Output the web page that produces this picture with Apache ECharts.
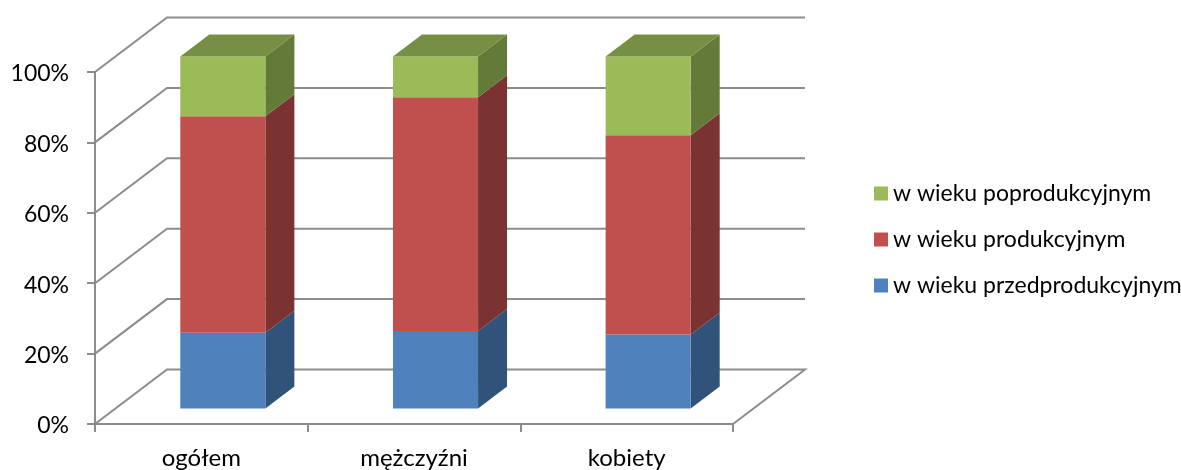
<!DOCTYPE html>
<html>
<head>
<meta charset="utf-8">
<style>html,body{margin:0;padding:0;background:#fff}#c{width:1181px;height:470px}</style>
<script src="https://cdn.jsdelivr.net/npm/echarts@6/dist/echarts.min.js"></script>
</head>
<body>
<div id="c"></div>
<script>
const categories = ['ogółem', 'mężczyźni', 'kobiety'];
const przedprodukcyjny = [21.5, 22, 21];
const produkcyjny = [61.5, 66.4, 56.6];
const poprodukcyjny = [17, 11.6, 22.4];
const yTicks = [0, 20, 40, 60, 80, 100];
const seriesNames = ['w wieku przedprodukcyjnym', 'w wieku produkcyjnym', 'w wieku poprodukcyjnym'];
const frontColors = ['#4F81BD', '#C0504D', '#9BBB59'];
const sideColors = ['#315279', '#7B3331', '#647A38'];
const topColor = '#778F44';

const WALL_DX = 72, WALL_DY = -54.5, DEPTH_X = 29, DEPTH_Y = -22;
const BAR_RATIO = 0.4, BAR_SHIFT_X = 21.5, BAR_SHIFT_Y = -15.5;
const FONT = 'Lato';
const LINE = '#8C8C8C';
const LINE_W = 2;

function rowsFor(values, prev) {
  return values.map((v, i) => [i, prev[i], prev[i] + v]);
}
const base0 = categories.map(() => 0);
const base1 = przedprodukcyjny.slice();
const base2 = przedprodukcyjny.map((v, i) => v + produkcyjny[i]);

function barRenderer(idx, isTop) {
  return function (params, api) {
    const c = api.value(0);
    const p0 = api.coord([c, api.value(1)]);
    const p1 = api.coord([c, api.value(2)]);
    const w = api.size([1, 0])[0] * BAR_RATIO;
    const xl = p0[0] - w / 2 + BAR_SHIFT_X, xr = xl + w;
    const yb = p0[1] + BAR_SHIFT_Y, yt = p1[1] + BAR_SHIFT_Y;
    const children = [
      { type: 'polygon', shape: { points: [[xr, yb], [xr + DEPTH_X, yb + DEPTH_Y], [xr + DEPTH_X, yt + DEPTH_Y], [xr, yt]] }, style: { fill: sideColors[idx] } },
      { type: 'rect', shape: { x: xl, y: yt, width: w, height: yb - yt }, style: { fill: frontColors[idx] } }
    ];
    if (isTop) {
      children.push({ type: 'polygon', shape: { points: [[xl, yt], [xr, yt], [xr + DEPTH_X, yt + DEPTH_Y], [xl + DEPTH_X, yt + DEPTH_Y]] }, style: { fill: topColor } });
    }
    return { type: 'group', children };
  };
}

function wallRenderer(params, api) {
  const v = api.value(0);
  const cs = params.coordSys;
  const y = api.coord([0, v])[1];
  const xl = cs.x, xr = cs.x + cs.width;
  const pts = [[xl, y], [xl + WALL_DX, y + WALL_DY], [xr + WALL_DX, y + WALL_DY]];
  if (v === 0) pts.push([xr, y]);
  return { type: 'polyline', shape: { points: pts }, style: { stroke: LINE, lineWidth: LINE_W, fill: null } };
}

const chart = echarts.init(document.getElementById('c'), null, { renderer: 'canvas' });
chart.setOption({
  animation: false,
  backgroundColor: '#fff',
  textStyle: { fontFamily: FONT },
  grid: { left: 95, right: 448, top: 72, bottom: 46, outerBoundsMode: 'none' },
  legend: {
    orient: 'vertical', left: 874, top: 182, padding: 0, itemWidth: 14, itemHeight: 14, itemGap: 23, selectedMode: false,
    icon: 'rect',
    data: seriesNames.slice().reverse(),
    textStyle: { fontFamily: FONT, fontSize: 23, color: '#000' }
  },
  xAxis: {
    type: 'category', data: categories, boundaryGap: true,
    axisLine: { show: true, lineStyle: { color: LINE, width: LINE_W } },
    axisTick: { show: true, alignWithLabel: false, length: 8, lineStyle: { color: LINE, width: LINE_W } },
    axisLabel: { fontFamily: FONT, fontSize: 24, color: '#000', margin: 22 },
    splitLine: { show: false }
  },
  yAxis: {
    type: 'value', min: 0, max: 100, interval: 20,
    axisLine: { show: true, lineStyle: { color: LINE, width: LINE_W } },
    axisTick: { show: true, length: 8, lineStyle: { color: LINE, width: LINE_W } },
    axisLabel: { fontFamily: FONT, fontSize: 23, color: '#000', margin: 26, verticalAlign: 'top', lineHeight: 4, formatter: '{value}%' },
    splitLine: { show: false }
  },
  series: [
    { type: 'custom', name: 'wall', silent: true, z: 1, renderItem: wallRenderer, data: yTicks.map(v => [v]), encode: { y: 0 } },
    { type: 'custom', name: seriesNames[0], z: 3, itemStyle: { color: frontColors[0] }, renderItem: barRenderer(0, false), data: rowsFor(przedprodukcyjny, base0), encode: { x: 0, y: 2 } },
    { type: 'custom', name: seriesNames[1], z: 3, itemStyle: { color: frontColors[1] }, renderItem: barRenderer(1, false), data: rowsFor(produkcyjny, base1), encode: { x: 0, y: 2 } },
    { type: 'custom', name: seriesNames[2], z: 3, itemStyle: { color: frontColors[2] }, renderItem: barRenderer(2, true), data: rowsFor(poprodukcyjny, base2), encode: { x: 0, y: 2 } }
  ]
});
</script>
</body>
</html>
